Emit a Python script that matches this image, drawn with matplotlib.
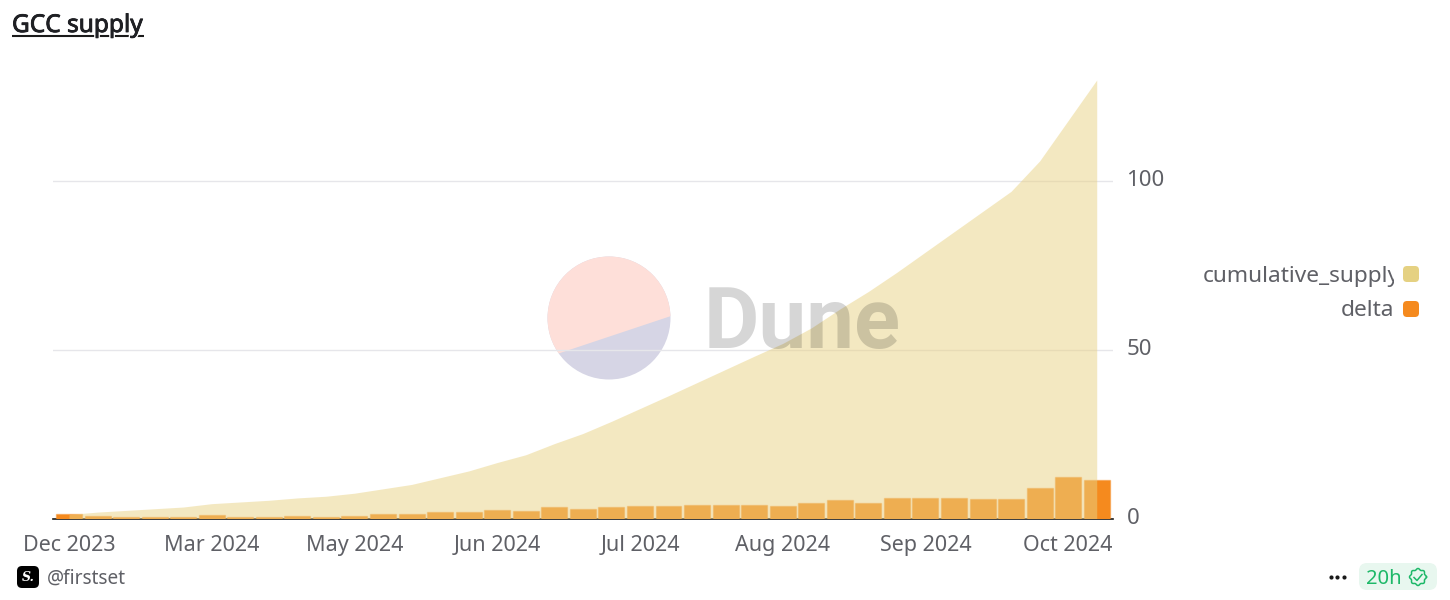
#
# Imports
#
import matplotlib
matplotlib.use("Agg")
from matplotlib import pyplot as plt
from matplotlib.patches import Circle, FancyBboxPatch, Polygon, Rectangle
from matplotlib.transforms import ScaledTranslation
from matplotlib import patheffects
import numpy as np

#
# Global variables
#
cumulative_supply = [1.2, 1.9, 2.4, 2.9, 3.4, 4.4, 4.9, 5.4, 6.1, 6.6, 7.5, 8.8, 10.1,
                     12.1, 14.1, 16.6, 18.9, 22.2, 25.2, 28.8, 32.6, 36.4, 40.3, 44.2,
                     48.1, 51.9, 56.5, 62.1, 67.3, 73, 79, 85, 91, 97, 106, 118, 130]
delta = [1.2, 0.7, 0.4, 0.5, 0.5, 1.0, 0.5, 0.5, 0.7, 0.5, 0.8, 1.3, 1.3,
         2.0, 2.0, 2.5, 2.3, 3.3, 2.9, 3.5, 3.7, 3.7, 3.9, 3.9,
         3.9, 3.7, 4.6, 5.6, 4.6, 6.1, 6.1, 6.1, 5.9, 5.7, 8.9, 12.3, 11.4]
tick_labels = ["Dec 2023", "Mar 2024", "May 2024", "Jun 2024",
               "Jul 2024", "Aug 2024", "Sep 2024", "Oct 2024"]
y_ticks = [0, 50, 100]

W, H = 1450, 600
FONT = "Noto Sans"
GREY = "#5f6066"
SAND = "#e5d182"
AREA = "#e9d284"
ORANGE = "#f58a1e"

#
# main
#
if __name__ == "__main__":
    plt.rcParams["font.family"] = FONT
    fig = plt.figure(figsize=(W / 100, H / 100), dpi=100)

    # watermark disc sits behind the chart so the grid line shows over it
    bg = fig.add_axes([0, 0, 1, 1], zorder=-1)
    bg.set_xlim(0, W)
    bg.set_ylim(H, 0)
    bg.axis("off")
    disc = Circle((609, 318), 61.5, facecolor="#d6d5e5", edgecolor="none")
    bg.add_patch(disc)
    top = Polygon([(540, 359.7), (680, 313), (680, 240), (540, 240)], facecolor="#fedfd9", edgecolor="none")
    bg.add_patch(top)
    top.set_clip_path(disc)

    # chart area, placed in pixels
    ax = fig.add_axes([53 / W, (H - 518.5) / H, 1060 / W, 438.5 / H])
    ax.patch.set_visible(False)
    x = np.arange(len(delta))
    ax.set_xlim(-0.56, 36.57)
    ax.set_ylim(0, 130)
    ax.bar(x, delta, width=0.91, color=ORANGE, edgecolor=(0.96, 0.54, 0.12, 0.45),
           linewidth=1, zorder=2)
    ax.fill_between(x, cumulative_supply, color=AREA, alpha=0.5, linewidth=0, zorder=3)

    ax.set_xticks(x[::5], tick_labels)
    ax.yaxis.tick_right()
    ax.set_yticks(y_ticks)
    ax.tick_params(axis="x", length=0, pad=23.5, labelsize=15.5, labelcolor=GREY)
    ax.tick_params(axis="y", length=0, pad=9.7, labelsize=16, labelcolor=GREY)
    for lab in ax.get_xticklabels():
        lab.set_verticalalignment("baseline")
    for lab in ax.get_yticklabels():
        lab.set_transform(lab.get_transform() + ScaledTranslation(0, 3 / 100, fig.dpi_scale_trans))
    ax.set_axisbelow(True)
    ax.grid(axis="y", color="#e6e6ea", linewidth=1)
    for s in ["top", "left", "right"]:
        ax.spines[s].set_visible(False)
    ax.spines["bottom"].set_color("#1a1a1a")
    ax.spines["bottom"].set_linewidth(1.2)
    ax.spines["bottom"].set_zorder(1)

    # overlay in pixel coordinates for the page furniture
    ov = fig.add_axes([0, 0, 1, 1], zorder=5)
    ov.set_xlim(0, W)
    ov.set_ylim(H, 0)
    ov.axis("off")

    ov.text(704, 348, "Dune", family="Roboto", weight="bold", fontsize=61.4, color="black",
            alpha=0.16, va="baseline", ha="left")

    # title, thickened with a stroke since only the regular weight renders
    ov.plot([12, 144], [36, 36], color="#1a1a1a", lw=1.5, solid_capstyle="butt")
    ov.text(12, 32, "GCC supply", fontsize=17.6, color="#1f2024", va="baseline",
            path_effects=[patheffects.withStroke(linewidth=2.6, foreground="white"),
                          patheffects.withStroke(linewidth=0.6, foreground="#1f2024")])

    # legend
    clip = Rectangle((1190, 255), 204, 40, transform=ov.transData)
    leg = ov.text(1203, 276.5, "cumulative_supply", fontsize=16.3, color=GREY, va="center", ha="left")
    leg.set_clip_path(clip)
    leg.set_clip_on(True)
    ov.text(1394, 310.5, "delta", fontsize=16.3, color=GREY, va="center", ha="right")
    for yy, col in [(266, SAND), (301, ORANGE)]:
        ov.add_patch(FancyBboxPatch((1405, yy + 2), 12, 12, boxstyle="round,pad=2,rounding_size=4",
                                    facecolor=col, edgecolor="none"))

    # footer
    ov.add_patch(FancyBboxPatch((20, 569), 16, 16, boxstyle="round,pad=3,rounding_size=5",
                                facecolor="black", edgecolor="none"))
    ov.text(28, 577.5, "S.", family="DejaVu Serif", style="italic", weight="bold", fontsize=9,
            color="white", ha="center", va="center")
    ov.text(47, 578.5, "@firstset", fontsize=13.7, color=GREY, va="center", ha="left")
    ov.scatter([1331, 1337.5, 1344], [577, 577, 577], s=9, color="#1a1a1a", linewidths=0)
    ov.add_patch(FancyBboxPatch((1365, 569), 66, 15, boxstyle="round,pad=6,rounding_size=8",
                                facecolor="#e8f7ef", edgecolor="none"))
    ov.text(1366, 578.5, "20h", fontsize=14.5, color="#1db868", va="center", ha="left")
    a = np.linspace(0, 2 * np.pi, 121)
    r = 7.8 + 0.7 * np.cos(8 * a)
    ov.plot(1418 + r * np.cos(a), 577 + r * np.sin(a), color="#1db868", lw=1.1)
    ov.plot([1414, 1417, 1422], [577.5, 580.5, 574.5], color="#1db868", lw=1.1)

    fig.savefig("out.png", dpi=100)
